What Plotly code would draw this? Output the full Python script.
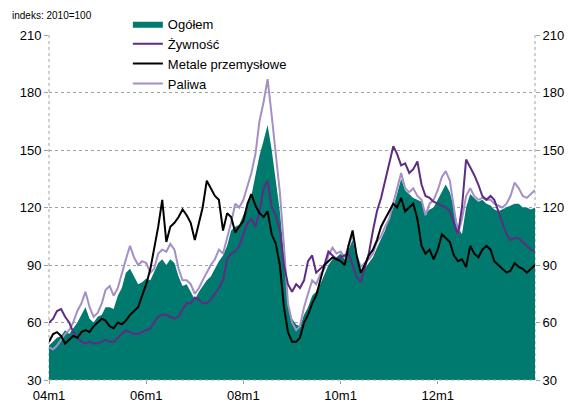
import plotly.graph_objects as go
import pandas as pd

# monthly observations 2004m1 .. 2014m1
months = pd.date_range("2004-01-01", "2014-01-01", freq="MS")

ogolem = [
    48, 50, 52, 53, 56, 54, 57, 60, 64, 68, 62, 60,
    63, 64, 68, 68, 67, 74, 78, 86, 88, 84, 80, 81,
    83, 82, 86, 91, 93, 90, 93, 91, 84, 79, 80, 76,
    72, 76, 79, 82, 84, 88, 92, 95, 100, 108, 110, 111,
    116, 121, 126, 137, 147, 155, 163, 150, 133, 118, 95, 70,
    62, 59, 58, 64, 68, 74, 76, 80, 85, 90, 93, 94,
    96, 93, 98, 103, 95, 87, 88, 91, 94, 99, 104, 108,
    115, 120, 127, 135, 129, 127, 125, 124, 123, 117, 119, 120,
    124, 128, 132, 128, 120, 110, 106, 120, 127, 125, 123, 124,
    122, 121, 119, 118, 119, 120, 121, 122, 122, 120, 120, 119,
    120,
]

zywnosc = [
    60, 62, 66, 67, 63, 60, 55, 52, 50, 49, 50, 49,
    49, 50, 51, 50, 50, 52, 54, 56, 55, 54, 54, 55,
    56, 57, 60, 63, 64, 64, 63, 62, 63, 67, 70, 70,
    73, 72, 70, 70, 72, 75, 78, 82, 93, 96, 97, 100,
    106, 112, 114, 110, 118, 130, 134, 120, 116, 108, 90, 80,
    76, 80, 78, 82, 92, 95, 86, 88, 90, 97, 95, 93,
    94, 95, 96, 90, 84, 81, 88, 96, 108, 118, 125, 134,
    144, 152, 148, 142, 143, 138, 140, 144, 132, 126, 125, 123,
    122, 121, 120, 118, 112, 106, 120, 145, 141, 137, 132, 126,
    124, 126, 124, 118, 112, 106, 103, 104, 104, 102, 100, 98,
    97,
]

metale = [
    50, 54, 55, 53, 49, 51, 53, 52, 55, 56, 55, 58,
    60, 62, 61, 58, 57, 60, 59, 61, 64, 66, 68, 74,
    80, 88, 98, 110, 124, 102, 110, 112, 115, 119, 116, 112,
    103, 112, 120, 134, 130, 126, 124, 108, 117, 115, 107, 110,
    113, 122, 127, 121, 117, 115, 118, 106, 101, 90, 68, 55,
    50, 50, 52, 60, 64, 70, 74, 82, 90, 92, 94, 93,
    92, 90, 100, 108, 95, 86, 90, 95, 98, 103, 110, 114,
    118, 122, 120, 125, 118, 120, 122, 114, 100, 96, 98, 93,
    98, 106, 104, 102, 95, 92, 93, 89, 100, 96, 94, 98,
    100, 98, 92, 90, 88, 86, 87, 91, 89, 88, 86, 88,
    90,
]

paliwa = [
    47, 46, 48, 51, 54, 56, 60, 66, 70, 76, 68, 63,
    65, 70, 77, 79, 74, 78, 86, 93, 100, 94, 90, 92,
    91, 86, 88, 96, 98, 97, 101, 98, 88, 82, 82, 80,
    75, 78, 82, 86, 90, 93, 98, 96, 104, 112, 122, 120,
    124, 132, 138, 148, 165, 175, 187, 168, 148, 128, 100, 70,
    60, 56, 58, 68, 75, 82, 80, 85, 88, 95, 99, 96,
    97, 94, 100, 106, 95, 89, 91, 93, 96, 102, 105, 110,
    114, 122, 130, 138, 130, 128, 130, 126, 124, 116, 122, 124,
    129, 136, 139, 134, 120, 106, 114, 126, 130, 126, 124, 125,
    124, 124, 122, 121, 120, 122, 126, 133, 130, 126, 125, 127,
    129,
]

x_tick_vals = ["2004-01-01", "2006-01-01", "2008-01-01", "2010-01-01", "2012-01-01"]
x_tick_text = ["04m1", "06m1", "08m1", "10m1", "12m1"]
y_ticks = [30, 60, 90, 120, 150, 180, 210]

TEAL = "#007A6E"
DARK = "#5E2C82"
LIGHT = "#A48FC7"
GRID = "#A0A0A0"
FONT = "Arial, Liberation Sans, sans-serif"

fig = go.Figure()
fig.add_trace(go.Scatter(x=months, y=ogolem, name="Ogółem", mode="lines",
                         line=dict(width=0, color=TEAL), fill="tozeroy",
                         fillcolor=TEAL, legendrank=1))
fig.add_trace(go.Scatter(x=months, y=paliwa, name="Paliwa", mode="lines",
                         line=dict(width=2, color=LIGHT), legendrank=4))
fig.add_trace(go.Scatter(x=months, y=zywnosc, name="Żywność", mode="lines",
                         line=dict(width=2, color=DARK), legendrank=2))
fig.add_trace(go.Scatter(x=months, y=metale, name="Metale przemysłowe", mode="lines",
                         line=dict(width=2, color="#000000"), legendrank=3,
                         yaxis="y2"))

axis_y = dict(range=[30, 210], tickvals=y_ticks, showgrid=True, gridcolor=GRID,
              griddash="dot", gridwidth=1, zeroline=False, showline=False,
              ticks="outside", ticklen=4, tickcolor=GRID, automargin=False,
              tickfont=dict(size=13, color="black", family=FONT))

fig.update_layout(
    width=576, height=403,
    margin=dict(l=49, r=41, t=35, b=23, autoexpand=False),
    paper_bgcolor="white", plot_bgcolor="white",
    font=dict(family=FONT, size=13, color="black"),
    xaxis=dict(range=["2004-01-01", "2014-01-01"], tickvals=x_tick_vals,
               ticktext=x_tick_text, showgrid=False, zeroline=False,
               showline=False, ticks="outside", ticklen=3, tickcolor=GRID,
               automargin=False,
               tickfont=dict(size=13, color="black", family=FONT)),
    yaxis=dict(axis_y, side="left"),
    yaxis2=dict(axis_y, side="right", overlaying="y", showgrid=False),
    showlegend=True,
    legend=dict(xref="container", yref="container", x=0.222, y=0.978,
                xanchor="left", yanchor="top",
                bgcolor="rgba(0,0,0,0)", traceorder="normal",
                font=dict(size=13, family=FONT), itemwidth=30,
                tracegroupgap=0),
    shapes=[
        dict(type="line", xref="paper", yref="paper", x0=0, x1=0, y0=0, y1=1,
             line=dict(color=GRID, width=1, dash="dot"), layer="below"),
        dict(type="line", xref="paper", yref="paper", x0=1, x1=1, y0=0, y1=1,
             line=dict(color=GRID, width=1, dash="dot"), layer="below"),
        dict(type="line", xref="paper", yref="paper", x0=0, x1=1, y0=0, y1=0,
             line=dict(color=GRID, width=1, dash="dot"), layer="above"),
    ],
    annotations=[
        dict(text="indeks: 2010=100", xref="paper", yref="paper",
             x=-0.08, y=1.056, xanchor="left", yanchor="middle",
             showarrow=False, font=dict(size=10, family=FONT, color="black")),
    ],
)

fig.write_html("out.html",
               config={"displayModeBar": False},
               post_script="document.body.style.margin='0';"
                           "document.body.style.overflow='hidden';")
